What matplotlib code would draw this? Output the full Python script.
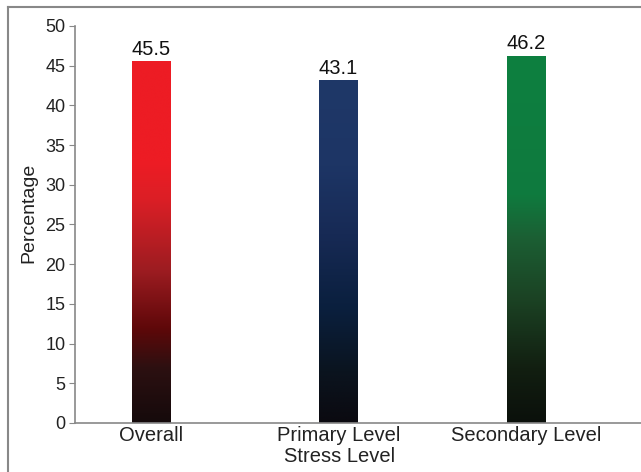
"""Stress level percentages as gradient-filled bars."""

import matplotlib

matplotlib.use("Agg")
import matplotlib.pyplot as plt  # noqa: E402
import numpy as np  # noqa: E402
from matplotlib.colors import LinearSegmentedColormap  # noqa: E402
from matplotlib.lines import Line2D  # noqa: E402

plt.rcParams["font.family"] = ["Liberation Sans", "DejaVu Sans"]

categories = ["Overall", "Primary Level", "Secondary Level"]
percentages = [45.5, 43.1, 46.2]

# colour stops from bar bottom (0) to bar top (1)
red_stops = [(0.0, "#150a0b"), (0.15, "#2c1011"), (0.26, "#5e0809"),
             (0.42, "#9c1c21"), (0.62, "#dc1f26"), (0.72, "#ed1c24"), (1.0, "#ed1c24")]
blue_stops = [(0.0, "#0b0a10"), (0.15, "#0b141f"), (0.33, "#0a1f3d"),
              (0.55, "#172a55"), (0.75, "#1d3565"), (1.0, "#1f3868")]
green_stops = [(0.0, "#0b100b"), (0.15, "#121f11"), (0.33, "#1b4123"),
               (0.5, "#1c5e33"), (0.62, "#0f7a3e"), (1.0, "#0d8040")]

fig = plt.figure(figsize=(6.41, 4.72), dpi=100)
ax = fig.add_axes([0.117, 0.104, 0.883, 0.841])

x = np.arange(len(categories))
bars = ax.bar(x, percentages, width=0.205, color="none", edgecolor="none")

grad = np.linspace(0, 1, 256).reshape(-1, 1)
for bar, stops in zip(bars, [red_stops, blue_stops, green_stops]):
    cmap = LinearSegmentedColormap.from_list("bar", stops)
    x0, y0 = bar.get_x(), bar.get_y()
    ax.imshow(grad, cmap=cmap, origin="lower", aspect="auto", interpolation="bicubic",
              extent=(x0, x0 + bar.get_width(), y0, y0 + bar.get_height()), zorder=2)

for xi, v in zip(x, percentages):
    ax.annotate(f"{v}", (xi, v), xytext=(0, 2), textcoords="offset points",
                ha="center", va="bottom", fontsize=14.5, color="#111111")

ax.set_xlim(-0.405, 2.613)
ax.set_ylim(0, 50)
ax.set_yticks(np.arange(0, 51, 5))
ax.set_xticks(x)
ax.set_xticklabels(categories)

for side in ("top", "right"):
    ax.spines[side].set_visible(False)
for side in ("left", "bottom"):
    ax.spines[side].set_color("#888888")
    ax.spines[side].set_linewidth(1.2)
ax.tick_params(axis="y", length=4, color="#888888", labelsize=13, pad=3,
               labelcolor="#222222")
ax.tick_params(axis="x", length=0, labelsize=14.5, pad=2, labelcolor="#222222")

ax.set_ylabel("Percentage", fontsize=14, color="#222222")
ax.yaxis.set_label_coords(-0.066, 0.53)
ax.set_xlabel("Stress Level", fontsize=14.5, color="#222222", labelpad=0)
ax.xaxis.set_label_coords(0.468, -0.06)

# frame lines along the top and left of the figure
fig.add_artist(Line2D([8 / 641, 1], [1 - 7 / 472] * 2, color="#888888", lw=1.5))
fig.add_artist(Line2D([8 / 641] * 2, [0, 1 - 7 / 472], color="#888888", lw=1.5))

fig.savefig("out.png", dpi=100)
